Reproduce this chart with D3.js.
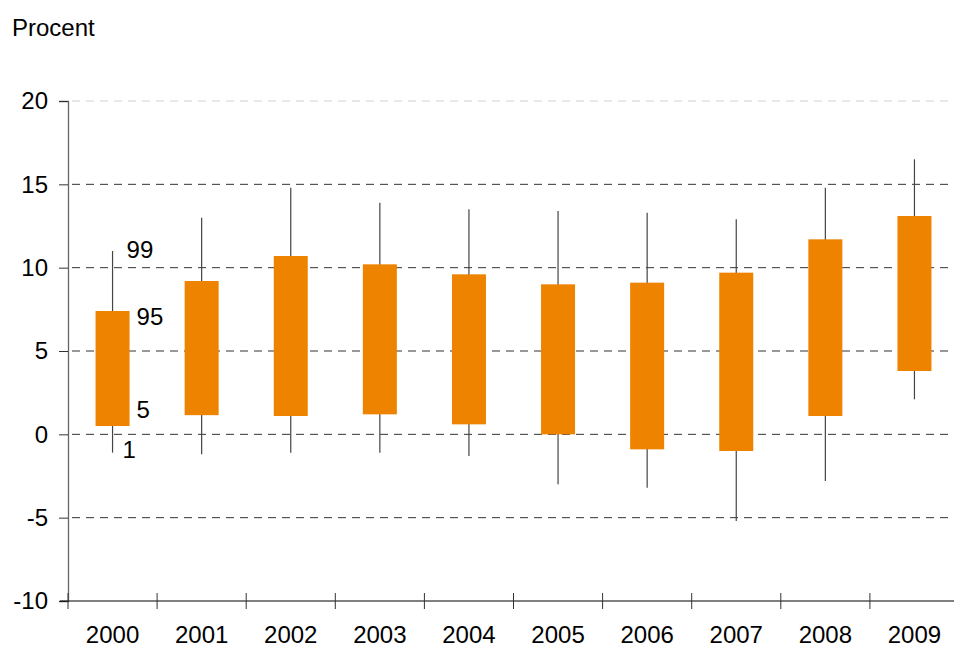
<!DOCTYPE html>
<html>
<head>
<meta charset="utf-8">
<script src="https://cdn.jsdelivr.net/npm/d3@7"></script>
<style>
  body { margin: 0; background: #fff; }
  text { font-family: "Liberation Sans", Arial, sans-serif; }
</style>
</head>
<body>
<div id="chart"></div>
<script>
// percentiles per year
var years = ['2000', '2001', '2002', '2003', '2004', '2005', '2006', '2007', '2008', '2009'];
var p1  = [-1.1, -1.2, -1.1, -1.1, -1.3, -3.0, -3.2, -5.2, -2.8, 2.1];
var p5  = [0.5, 1.15, 1.1, 1.2, 0.6, 0.0, -0.9, -1.0, 1.1, 3.8];
var p95 = [7.4, 9.2, 10.7, 10.2, 9.6, 9.0, 9.1, 9.7, 11.7, 13.1];
var p99 = [11.0, 13.0, 14.8, 13.9, 13.5, 13.4, 13.3, 12.9, 14.8, 16.5];
var yTicks = [-10, -5, 0, 5, 10, 15, 20];
var pctLabels = ['99', '95', '5', '1'];

var width = 954, height = 648;
var plotLeft = 68, plotRight = 959, plotTop = 101, plotBottom = 601;
var fontSize = '24px';

var svg = d3.select('#chart').append('svg')
    .attr('width', width)
    .attr('height', height);

var x = d3.scaleBand().domain(years).range([plotLeft, plotRight]).padding(0);
var y = d3.scaleLinear().domain([-10, 20]).range([plotBottom, plotTop]);
var boxW = 34;

// title
svg.append('text')
    .attr('x', 12)
    .attr('y', 36)
    .attr('font-size', fontSize)
    .attr('fill', '#000')
    .text('Procent');

// grid lines
svg.append('g').selectAll('line')
    .data(yTicks.filter(function(d){ return d > -10; }))
    .enter().append('line')
    .attr('x1', plotLeft + 4)
    .attr('x2', 950)
    .attr('y1', function(d){ return y(d); })
    .attr('y2', function(d){ return y(d); })
    .attr('stroke', function(d){ return d === 20 ? '#d0d0d0' : '#333'; })
    .attr('stroke-width', 1)
    .attr('stroke-dasharray', '8,6');

// y axis (plain hyphen for negatives, like the original)
var yAxis = svg.append('g')
    .attr('transform', 'translate(' + plotLeft + ',0)')
    .call(d3.axisLeft(y).tickValues(yTicks).tickSize(9).tickPadding(11).tickFormat(function(d){ return String(d); }));
yAxis.select('.domain').attr('stroke', '#666').attr('stroke-width', 1.3);
yAxis.selectAll('.tick line').attr('stroke', '#333');
yAxis.selectAll('.tick text')
    .attr('font-size', fontSize)
    .attr('font-family', '"Liberation Sans", Arial, sans-serif')
    .attr('fill', '#000');

// x axis line and boundary ticks
svg.append('line')
    .attr('x1', 60).attr('x2', width)
    .attr('y1', plotBottom).attr('y2', plotBottom)
    .attr('stroke', '#000').attr('stroke-width', 1);

svg.append('g').selectAll('line')
    .data(years)
    .enter().append('line')
    .attr('x1', function(d){ return x(d); })
    .attr('x2', function(d){ return x(d); })
    .attr('y1', plotBottom - 8)
    .attr('y2', plotBottom + 8)
    .attr('stroke', '#333');

var xAxis = svg.append('g')
    .attr('transform', 'translate(0,' + plotBottom + ')')
    .call(d3.axisBottom(x).tickSize(0).tickPadding(25));
xAxis.select('.domain').remove();
xAxis.selectAll('.tick text')
    .attr('font-size', fontSize)
    .attr('font-family', '"Liberation Sans", Arial, sans-serif')
    .attr('fill', '#000');

// whiskers and boxes
var cx = function(i){ return x(years[i]) + x.bandwidth() / 2; };

svg.append('g').selectAll('line')
    .data(years)
    .enter().append('line')
    .attr('x1', function(d, i){ return cx(i); })
    .attr('x2', function(d, i){ return cx(i); })
    .attr('y1', function(d, i){ return y(p99[i]); })
    .attr('y2', function(d, i){ return y(p1[i]); })
    .attr('stroke', '#444')
    .attr('stroke-width', 1.2);

svg.append('g').selectAll('rect')
    .data(years)
    .enter().append('rect')
    .attr('x', function(d, i){ return cx(i) - boxW / 2; })
    .attr('y', function(d, i){ return y(p95[i]); })
    .attr('width', boxW)
    .attr('height', function(d, i){ return y(p5[i]) - y(p95[i]); })
    .attr('fill', '#EE8300');

// percentile labels on first year
var lblVals = [p99[0], p95[0], p5[0], p1[0]];
var lblDx = [14, 24, 24, 10];
var lblDy = [7, 14, -8, 5];
svg.append('g').selectAll('text')
    .data(pctLabels)
    .enter().append('text')
    .attr('x', function(d, i){ return cx(0) + lblDx[i]; })
    .attr('y', function(d, i){ return y(lblVals[i]) + lblDy[i]; })
    .attr('font-size', fontSize)
    .attr('fill', '#000')
    .text(function(d){ return d; });
</script>
</body>
</html>
